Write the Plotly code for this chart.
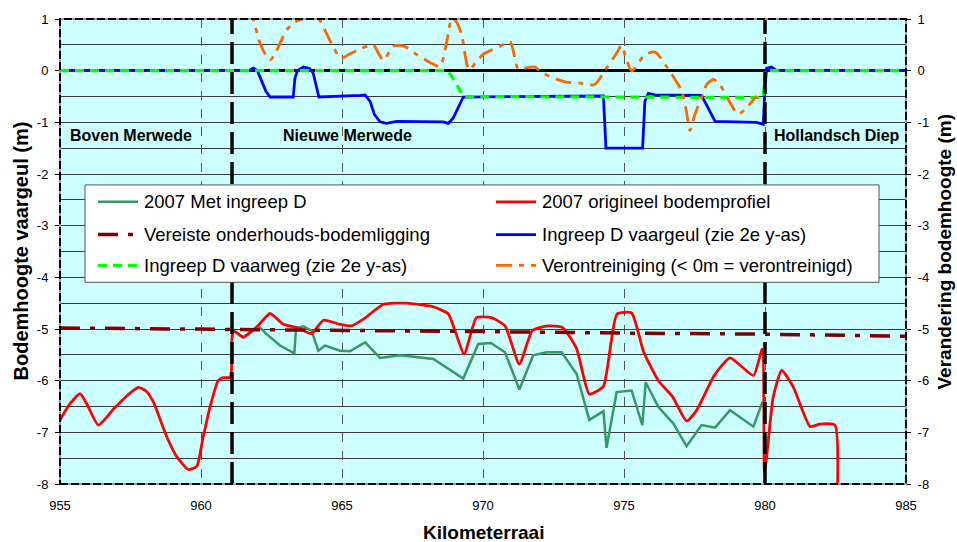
import plotly.graph_objects as go

# ---- data ---------------------------------------------------------------
# 2007 original river-bed profile (km, m)
km_orig = [955.0, 955.35, 955.71, 955.95, 956.36, 956.9, 957.4, 957.78, 958.05, 958.31,
           958.78, 959.14, 959.55, 959.85, 960.08, 960.32, 960.61, 960.79, 961.03, 961.08,
           961.10, 961.15, 961.5, 962.0, 962.45, 962.92, 963.39, 963.92, 964.34, 964.93,
           965.34, 965.76, 966.47, 967.29, 968.24, 968.77, 969.33, 969.77, 970.3, 970.78,
           971.29, 971.75, 972.3, 972.82, 973.32, 973.77, 974.27, 974.75, 975.27, 975.7,
           976.22, 976.72, 977.22, 977.58, 978.2, 978.76, 979.59, 979.9, 979.98, 980.06,
           980.29, 980.59, 981.0, 981.6, 981.95, 982.48, 982.56]
bed_orig = [-6.76, -6.45, -6.25, -6.45, -6.86, -6.55, -6.28, -6.13, -6.2, -6.41,
            -7.08, -7.47, -7.72, -7.66, -7.08, -6.51, -6.0, -5.94, -5.94, -5.80,
            -5.16, -5.03, -5.16, -4.95, -4.70, -4.91, -4.97, -5.09, -4.83, -4.91,
            -4.94, -4.81, -4.52, -4.50, -4.57, -4.71, -5.48, -4.78, -4.78, -4.94,
            -5.68, -5.03, -4.94, -4.97, -5.38, -6.26, -6.11, -4.71, -4.69, -5.45,
            -6.0, -6.31, -6.78, -6.57, -5.90, -5.56, -5.90, -5.39, -7.79, -7.47,
            -6.32, -5.80, -6.12, -6.89, -6.84, -6.86, -8.4]

# 2007 profile with intervention D
km_ingreep = [961.1, 961.15, 961.5, 962.03, 962.33, 962.8, 963.31, 963.37, 963.63, 963.92,
              964.16, 964.4, 964.93, 965.28, 965.82, 966.35, 967.06, 968.24, 969.3, 969.83,
              970.28, 970.78, 971.29, 971.78, 972.26, 972.79, 973.32, 973.77, 974.27, 974.38,
              974.74, 975.27, 975.65, 975.77, 976.22, 976.75, 977.22, 977.75, 978.23, 978.76,
              979.59, 979.91]
bed_ingreep = [-5.16, -5.03, -5.16, -4.94, -5.10, -5.32, -5.47, -4.99, -4.95, -5.03,
               -5.42, -5.32, -5.42, -5.43, -5.26, -5.56, -5.51, -5.58, -5.96, -5.29,
               -5.27, -5.45, -6.17, -5.51, -5.45, -5.45, -5.87, -6.76, -6.59, -7.30,
               -6.22, -6.19, -6.86, -6.03, -6.51, -6.83, -7.27, -6.86, -6.91, -6.57,
               -6.89, -6.41]

# required maintenance bed level
km_vereist = [955, 960, 965, 970, 975, 980, 985]
bed_vereist = [-4.98, -5.00, -5.02, -5.05, -5.08, -5.10, -5.14]

# change of bed level in the fairway channel (secondary axis)
km_vaargeul = [955.0, 961.7, 961.86, 962.0, 962.09, 962.3, 962.45, 963.27, 963.33, 963.42,
               963.63, 963.85, 963.98, 964.18, 965.64, 965.82, 966.0, 966.15, 966.35, 966.58,
               966.94, 968.59, 968.77, 968.95, 969.3, 974.27, 974.36, 975.66, 975.74, 975.86,
               976.1, 977.75, 978.23, 979.7, 979.94, 980.0, 980.06, 980.23, 980.41, 985.0]
d_vaargeul = [0.0, 0.0, 0.05, 0.0, -0.12, -0.4, -0.51, -0.51, -0.15, 0.0,
              0.07, 0.04, -0.05, -0.51, -0.48, -0.47, -0.6, -0.85, -0.99, -1.02,
              -0.98, -0.99, -1.02, -0.91, -0.51, -0.49, -1.5, -1.5, -0.6, -0.44,
              -0.47, -0.48, -0.98, -1.0, -1.04, -0.3, 0.05, 0.07, 0.0, 0.0]

# change of bed level in the navigation route (secondary axis)
km_vaarweg = [955.0, 968.75, 969.0, 969.3, 979.94, 980.0, 985.0]
d_vaarweg = [0.0, 0.0, -0.2, -0.5, -0.52, 0.0, 0.0]

# contamination indicator (< 0 m = contaminated)
km_veront = [961.7, 961.86, 962.1, 962.3, 962.45, 962.6, 962.8, 963.04, 963.3, 963.6,
             964.0, 964.2, 964.45, 964.7, 964.96, 965.3, 965.64, 966.11, 966.3, 966.47,
             966.82, 967.17, 967.65, 968.12, 968.48, 968.65, 968.77, 968.89, 969.05, 969.24,
             969.5, 969.75, 970.01, 970.3, 970.6, 970.96, 971.25, 971.5, 971.85, 972.05,
             972.49, 972.96, 973.44, 973.95, 974.38, 974.74, 974.91, 975.09, 975.28, 975.72,
             976.1, 976.51, 976.81, 977.05, 977.22, 977.34, 977.52, 977.75, 977.93, 978.17,
             978.4, 978.76, 979.05, 979.41, 979.7]
d_veront = [1.25, 0.98, 0.52, 0.30, 0.21, 0.30, 0.53, 0.79, 0.93, 1.0,
            1.02, 0.98, 0.72, 0.45, 0.24, 0.33, 0.42, 0.50, 0.33, 0.20,
            0.47, 0.48, 0.31, 0.16, 0.08, 0.40, 0.72, 1.02, 0.95, 0.70,
            0.02, 0.16, 0.32, 0.40, 0.47, 0.56, 0.03, 0.05, 0.07, -0.02,
            -0.14, -0.22, -0.24, -0.27, 0.05, 0.34, 0.49, 0.21, -0.01, 0.30,
            0.36, 0.08, -0.17, -0.40, -0.81, -1.16, -0.84, -0.52, -0.27, -0.17,
            -0.27, -0.62, -0.84, -0.68, -0.49]

# river sections and their boundaries
section_names = ["Boven Merwede", "Nieuwe Merwede", "Hollandsch Diep"]
section_km = [957.52, 965.21, 982.55]
section_label_level = -1.255
section_bounds = [961.1, 980.0]

series_names = ["2007 Met ingreep D", "2007 origineel bodemprofiel",
                "Vereiste onderhouds-bodemligging", "Ingreep D vaargeul (zie 2e y-as)",
                "Ingreep D vaarweg (zie 2e y-as)", "Verontreiniging (< 0m = verontreinigd)"]

x_range = [955, 985]
y_range = [-8, 1]
y_ticks = list(range(-8, 2))
y_ticktext = [str(v) for v in y_ticks]   # plain hyphen-minus labels

# ---- styling ------------------------------------------------------------
FONT = "Liberation Sans, Arial, sans-serif"
W, H = 957, 542
L, R, T, B = 60, 51, 16, 58
PW, PH = W - L - R, H - T - B

styles = [
    dict(color="#339966", width=2.5, dash="solid"),
    dict(color="#FF0000", width=2.8, dash="solid"),
    dict(color="#800000", width=3.5, dash="20px,10px,5px,10px"),
    dict(color="#0000FF", width=2.8, dash="solid"),
    dict(color="#00FF00", width=3.2, dash="9px,6px"),
    dict(color="#FF6600", width=2.8, dash="16px,7px,5px,7px"),
]

fig = go.Figure()
fig.add_trace(go.Scatter(x=km_ingreep, y=bed_ingreep, mode="lines", name=series_names[0],
                         line=styles[0]))
fig.add_trace(go.Scatter(x=km_orig, y=bed_orig, mode="lines", name=series_names[1],
                         line=dict(**styles[1], shape="spline", smoothing=0.5)))
fig.add_trace(go.Scatter(x=km_vereist, y=bed_vereist, mode="lines", name=series_names[2],
                         line=styles[2]))
fig.add_trace(go.Scatter(x=km_vaargeul, y=d_vaargeul, mode="lines", name=series_names[3],
                         line=styles[3], yaxis="y2"))
fig.add_trace(go.Scatter(x=km_vaarweg, y=d_vaarweg, mode="lines", name=series_names[4],
                         line=styles[4], yaxis="y2"))
fig.add_trace(go.Scatter(x=km_veront, y=d_veront, mode="lines", name=series_names[5],
                         line=dict(**styles[5], shape="spline", smoothing=0.7), yaxis="y2"))


def px_x(px):
    return (px - L) / PW


def px_y(py):
    return (H - B - py) / PH


shapes = []
# section boundaries
for kb in section_bounds:
    shapes.append(dict(type="line", xref="x", yref="paper", x0=kb, x1=kb, y0=0, y1=1,
                       layer="above", line=dict(color="black", width=3.5, dash="22px,8px")))
# plot frame
shapes.append(dict(type="rect", xref="paper", yref="paper", x0=0, x1=1, y0=0, y1=1,
                   layer="above", line=dict(color="#999999", width=2)))
shapes.append(dict(type="rect", xref="paper", yref="paper", x0=0, x1=1, y0=0, y1=1,
                   layer="above", line=dict(color="black", width=2, dash="8px,3px")))

# legend box
lg_left, lg_top, lg_right, lg_bottom = 85, 183, 879, 281
shapes.append(dict(type="rect", xref="paper", yref="paper",
                   x0=px_x(lg_left), x1=px_x(lg_right), y0=px_y(lg_bottom), y1=px_y(lg_top),
                   layer="above", fillcolor="white", line=dict(color="#555555", width=1)))

annotations = []
col_x = [98, 496]
row_y = [200, 233, 264]
for i, name in enumerate(series_names):
    cx = col_x[i % 2]
    ry = row_y[i // 2]
    st = styles[i]
    shapes.append(dict(type="line", xref="paper", yref="paper",
                       x0=px_x(cx), x1=px_x(cx + 40), y0=px_y(ry), y1=px_y(ry),
                       layer="above",
                       line=dict(color=st["color"], width=st["width"], dash=st["dash"])))
    annotations.append(dict(text=name, xref="paper", yref="paper", x=px_x(cx + 44), y=px_y(ry),
                            xanchor="left", yanchor="middle", showarrow=False,
                            font=dict(family=FONT, size=18.5, color="black")))

for nm, kx in zip(section_names, section_km):
    annotations.append(dict(text=f"<b>{nm}</b>", x=kx, y=section_label_level, xref="x", yref="y",
                            showarrow=False, xanchor="center", yanchor="middle",
                            font=dict(family=FONT, size=16, color="black")))

# axis titles
annotations.append(dict(text="<b>Kilometerraai</b>", xref="paper", yref="paper",
                        x=0.5, y=px_y(533), xanchor="center", yanchor="middle", showarrow=False,
                        font=dict(family=FONT, size=19, color="black")))
annotations.append(dict(text="<b>Bodemhoogte vaargeul (m)</b>", xref="paper", yref="paper",
                        x=px_x(20), y=0.5, xanchor="center", yanchor="middle", showarrow=False,
                        textangle=-90, font=dict(family=FONT, size=20, color="black")))
annotations.append(dict(text="<b>Verandering bodemhoogte (m)</b>", xref="paper", yref="paper",
                        x=px_x(944), y=0.5, xanchor="center", yanchor="middle", showarrow=False,
                        textangle=-90, font=dict(family=FONT, size=19, color="black")))

grid_col = "#3a3a3a"
fig.update_layout(
    width=W, height=H,
    margin=dict(l=L, r=R, t=T, b=B, pad=0),
    plot_bgcolor="#CCFFFF", paper_bgcolor="white",
    font=dict(family=FONT, size=13, color="black"),
    showlegend=False,
    xaxis=dict(range=x_range, tick0=955, dtick=5, showgrid=True, gridcolor="#555555",
               griddash="dash", gridwidth=1.3, ticks="", ticklabelstandoff=12,
               zeroline=False, showline=False),
    yaxis=dict(range=y_range, tickvals=y_ticks, ticktext=y_ticktext, showgrid=True,
               gridcolor=grid_col, gridwidth=1,
               minor=dict(dtick=0.5, showgrid=True, gridcolor=grid_col, gridwidth=1),
               ticks="outside", ticklen=4, tickcolor="black", ticklabelstandoff=4,
               zeroline=True, zerolinecolor="black", zerolinewidth=2.5, showline=False),
    yaxis2=dict(range=y_range, tickvals=y_ticks, ticktext=y_ticktext, overlaying="y",
                side="right", showgrid=False,
                ticks="outside", ticklen=4, tickcolor="black", ticklabelstandoff=4,
                zeroline=False, showline=False),
    shapes=shapes,
    annotations=annotations,
)

fig.write_html("out.html")
